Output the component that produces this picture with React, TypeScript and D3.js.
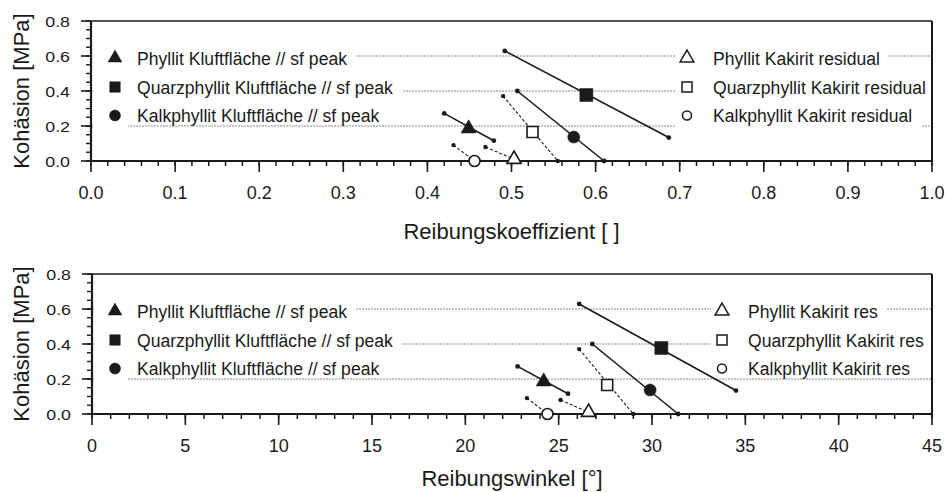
import React, { useEffect, useRef } from "react";
import * as d3 from "d3";

const W = 946;
const H = 493;

// ---------- data ----------
const peakNames = [
  "Phyllit Kluftfläche // sf peak",
  "Quarzphyllit Kluftfläche // sf peak",
  "Kalkphyllit Kluftfläche // sf peak",
];
const resNamesTop = [
  "Phyllit Kakirit residual",
  "Quarzphyllit Kakirit residual",
  "Kalkphyllit Kakirit residual",
];
const resNamesBottom = [
  "Phyllit Kakirit res",
  "Quarzphyllit Kakirit res",
  "Kalkphyllit Kakirit res",
];
const symbolsOrder = ["triangle", "square", "circle"];

const cohesionTicks = [0, 0.2, 0.4, 0.6, 0.8];
const gridLevels = [0.2, 0.4, 0.6];
const coefTicks = [0, 0.1, 0.2, 0.3, 0.4, 0.5, 0.6, 0.7, 0.8, 0.9, 1.0];
const angleTicks = [0, 5, 10, 15, 20, 25, 30, 35, 40, 45];

// cohesion values (same in both panels)
const peakCoh = [0.185, 0.377, 0.137];
const peakCohRange = [
  [0.272, 0.116],
  [0.629, 0.134],
  [0.4, 0.0],
];
const resCoh = [0.01, 0.166, 0.0];
const resCohRange = [
  [0.08, 0.01],
  [0.371, 0.0],
  [0.091, 0.0],
];

// top panel: friction coefficient
const peakCoef = [0.449, 0.589, 0.574];
const peakCoefRange = [
  [0.42, 0.479],
  [0.492, 0.687],
  [0.507, 0.61],
];
const resCoef = [0.503, 0.525, 0.456];
const resCoefRange = [
  [0.469, 0.503],
  [0.49, 0.555],
  [0.431, 0.456],
];

// bottom panel: friction angle
const peakAngle = [24.2, 30.5, 29.9];
const peakAngleRange = [
  [22.8, 25.5],
  [26.1, 34.5],
  [26.8, 31.4],
];
const resAngle = [26.6, 27.6, 24.4];
const resAngleRange = [
  [25.1, 26.6],
  [26.1, 29.0],
  [23.3, 24.4],
];

// ---------- layout ----------
const FONT = "'Liberation Sans', Arial, Helvetica, sans-serif";
const INK = "#1a1a1a";

const panels = [
  {
    top: 21,
    bottom: 161,
    left: 91,
    right: 932,
    xDomain: [0, 1],
    xTicks: coefTicks,
    xMinorStep: 0.02,
    xFormat: d3.format(".1f"),
    title: "Reibungskoeffizient [ ]",
    titleBaseline: 239,
    peakX: peakCoef,
    peakXRange: peakCoefRange,
    resX: resCoef,
    resXRange: resCoefRange,
    resNames: resNamesTop,
    rightMarkerX: 687,
    rightTextX: 713,
    rightCoverRow3: true,
  },
  {
    top: 274,
    bottom: 414,
    left: 92,
    right: 932,
    xDomain: [0, 45],
    xTicks: angleTicks,
    xMinorStep: 1,
    xFormat: d3.format("d"),
    title: "Reibungswinkel [°]",
    titleBaseline: 486,
    peakX: peakAngle,
    peakXRange: peakAngleRange,
    resX: resAngle,
    resXRange: resAngleRange,
    resNames: resNamesBottom,
    rightMarkerX: 722,
    rightTextX: 748,
    rightCoverRow3: false,
  },
];

const legendRowOffsets = [37, 66, 94.5];
const leftMarkerX = 115;
const leftTextX = 137;

function symType(name: string) {
  if (name === "triangle") return d3.symbolTriangle;
  if (name === "square") return d3.symbolSquare;
  return d3.symbolCircle;
}

const plotSizeFilled: Record<string, number> = { triangle: 100, square: 169, circle: 115 };
const plotSizeOpen: Record<string, number> = { triangle: 88, square: 121, circle: 95 };
const legSizeFilled: Record<string, number> = { triangle: 82, square: 110, circle: 95 };
const legSizeOpen: Record<string, number> = { triangle: 82, square: 100, circle: 64 };

function drawPanel(svg: any, p: any) {
  const x = d3.scaleLinear().domain(p.xDomain).range([p.left, p.right]);
  const y = d3.scaleLinear().domain([0, 0.8]).range([p.bottom, p.top]);
  const g = svg.append("g");

  // dotted grid lines
  g.selectAll("line.grid")
    .data(gridLevels)
    .enter()
    .append("line")
    .attr("x1", p.left)
    .attr("x2", p.right)
    .attr("y1", (d: number) => y(d))
    .attr("y2", (d: number) => y(d))
    .attr("stroke", "#8a8a8a")
    .attr("stroke-width", 1)
    .attr("stroke-dasharray", "2,1");

  // legends
  const legendG = g.append("g");
  const addLegend = (
    names: string[],
    markerX: number,
    textX: number,
    filled: boolean,
    coverRow3: boolean,
    isLeft: boolean
  ) => {
    const rows = legendRowOffsets.map((o) => p.top + o);
    const cover = legendG.append("g");
    const content = legendG.append("g");
    names.forEach((name, i) => {
      const ry = rows[i];
      const t = content
        .append("text")
        .attr("transform", `translate(${textX},${ry + 6.5}) scale(0.925,1)`)
        .attr("font-family", FONT)
        .attr("font-size", 19)
        .attr("fill", INK)
        .text(name);
      const tw = (t.node() as SVGTextElement).getComputedTextLength() * 0.925;
      const bottomPad = i === 2 ? (coverRow3 ? 14 : 9) : 9;
      cover
        .append("rect")
        .attr("x", markerX - 11)
        .attr("y", ry - 10)
        .attr("width", textX + tw + 9 - (markerX - 11))
        .attr("height", 10 + bottomPad)
        .attr("fill", "#fff");
      const sym = symbolsOrder[i];
      content
        .append("path")
        .attr("transform", `translate(${markerX},${ry})`)
        .attr(
          "d",
          d3.symbol().type(symType(sym)).size(filled ? legSizeFilled[sym] : legSizeOpen[sym])()
        )
        .attr("fill", filled ? INK : "#fff")
        .attr("stroke", INK)
        .attr("stroke-width", filled ? 0.5 : 1.5);
    });
    if (isLeft) {
      cover
        .append("rect")
        .attr("x", p.left + 2)
        .attr("y", rows[0] - 10)
        .attr("width", textX - 9 - (p.left + 2))
        .attr("height", rows[2] - rows[0] + 24)
        .attr("fill", "#fff");
    }
  };
  addLegend(peakNames, leftMarkerX, leftTextX, true, false, true);
  addLegend(p.resNames, p.rightMarkerX, p.rightTextX, false, p.rightCoverRow3, false);

  const line = d3
    .line<[number, number]>()
    .x((d) => x(d[0]))
    .y((d) => y(d[1]));

  // residual dashed lines
  p.resXRange.forEach((xr: number[], i: number) => {
    const pts: [number, number][] = [
      [xr[0], resCohRange[i][0]],
      [xr[1], resCohRange[i][1]],
    ];
    g.append("path")
      .attr("d", line(pts))
      .attr("fill", "none")
      .attr("stroke", INK)
      .attr("stroke-width", 1.1)
      .attr("stroke-dasharray", "3,2");
    pts.forEach((pt) =>
      g.append("circle").attr("cx", x(pt[0])).attr("cy", y(pt[1])).attr("r", 2.2).attr("fill", INK)
    );
  });

  // peak solid lines
  p.peakXRange.forEach((xr: number[], i: number) => {
    const pts: [number, number][] = [
      [xr[0], peakCohRange[i][0]],
      [xr[1], peakCohRange[i][1]],
    ];
    g.append("path")
      .attr("d", line(pts))
      .attr("fill", "none")
      .attr("stroke", INK)
      .attr("stroke-width", 1.6);
    pts.forEach((pt) =>
      g.append("circle").attr("cx", x(pt[0])).attr("cy", y(pt[1])).attr("r", 2.4).attr("fill", INK)
    );
  });

  // axes frame
  const ax = g.append("g").attr("stroke", INK);
  ax.append("line").attr("x1", p.left).attr("x2", p.right).attr("y1", p.top).attr("y2", p.top).attr("stroke-width", 1.6);
  ax.append("line").attr("x1", p.right).attr("x2", p.right).attr("y1", p.top).attr("y2", p.bottom).attr("stroke-width", 2);

  // x ticks
  const xMinor = d3.range(p.xDomain[0], p.xDomain[1] + p.xMinorStep / 2, p.xMinorStep);
  xMinor.forEach((v: number) =>
    ax.append("line").attr("x1", x(v)).attr("x2", x(v)).attr("y1", p.bottom).attr("y2", p.bottom + 5).attr("stroke-width", 1.5)
  );
  p.xTicks.forEach((v: number) =>
    ax.append("line").attr("x1", x(v)).attr("x2", x(v)).attr("y1", p.bottom).attr("y2", p.bottom + 11).attr("stroke-width", 1.6)
  );
  // y ticks
  const yMinor = d3.range(0, 0.8 + 0.025, 0.05);
  yMinor.forEach((v: number) =>
    ax.append("line").attr("x1", p.left - 5).attr("x2", p.left).attr("y1", y(v)).attr("y2", y(v)).attr("stroke-width", 1.4)
  );
  cohesionTicks.forEach((v: number) =>
    ax.append("line").attr("x1", p.left - 10).attr("x2", p.left).attr("y1", y(v)).attr("y2", y(v)).attr("stroke-width", 1.6)
  );
  ax.append("line").attr("x1", p.left).attr("x2", p.right + 1).attr("y1", p.bottom).attr("y2", p.bottom).attr("stroke-width", 2.2);
  ax.append("line").attr("x1", p.left).attr("x2", p.left).attr("y1", p.top).attr("y2", p.bottom + 1).attr("stroke-width", 2.2);

  // tick labels
  p.xTicks.forEach((v: number) =>
    g.append("text")
      .attr("x", x(v))
      .attr("y", p.bottom + 38)
      .attr("text-anchor", "middle")
      .attr("font-family", FONT)
      .attr("font-size", 18)
      .attr("fill", INK)
      .text(p.xFormat(v))
  );
  cohesionTicks.forEach((v: number) =>
    g.append("text")
      .attr("transform", `translate(${p.left - 21},${y(v) + 5.5}) scale(1.15,1)`)
      .attr("text-anchor", "end")
      .attr("font-family", FONT)
      .attr("font-size", 15.5)
      .attr("fill", INK)
      .text(d3.format(".1f")(v))
  );

  // axis titles
  g.append("text")
    .attr("x", (p.left + p.right) / 2 + 0)
    .attr("y", p.titleBaseline)
    .attr("text-anchor", "middle")
    .attr("font-family", FONT)
    .attr("font-size", 22)
    .attr("fill", INK)
    .text(p.title);
  g.append("text")
    .attr("transform", `translate(28.5,${(p.top + p.bottom) / 2}) rotate(-90)`)
    .attr("text-anchor", "middle")
    .attr("font-family", FONT)
    .attr("font-size", 22)
    .attr("fill", INK)
    .text("Kohäsion [MPa]");

  // markers
  const mk = g.append("g");
  p.resX.forEach((xv: number, i: number) => {
    const sym = symbolsOrder[i];
    mk.append("path")
      .attr("transform", `translate(${x(xv)},${y(resCoh[i])})`)
      .attr("d", d3.symbol().type(symType(sym)).size(plotSizeOpen[sym])())
      .attr("fill", "#fff")
      .attr("stroke", INK)
      .attr("stroke-width", 1.6);
  });
  p.peakX.forEach((xv: number, i: number) => {
    const sym = symbolsOrder[i];
    mk.append("path")
      .attr("transform", `translate(${x(xv)},${y(peakCoh[i])})`)
      .attr("d", d3.symbol().type(symType(sym)).size(plotSizeFilled[sym])())
      .attr("fill", INK)
      .attr("stroke", INK)
      .attr("stroke-width", 0.5);
  });
}

export default function App() {
  const ref = useRef<SVGSVGElement>(null);
  useEffect(() => {
    const svg = d3.select(ref.current);
    svg.selectAll("*").remove();
    panels.forEach((p) => drawPanel(svg, p));
  }, []);
  return (
    <svg
      ref={ref}
      width={W}
      height={H}
      style={{ position: "absolute", left: 0, top: 0, background: "#fff", display: "block" }}
    />
  );
}
